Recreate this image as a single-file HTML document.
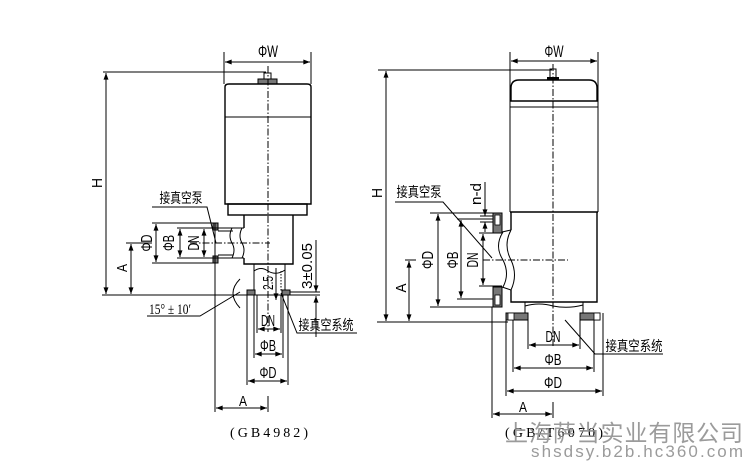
<!DOCTYPE html>
<html><head><meta charset="utf-8"><style>
html,body{margin:0;padding:0;background:#fff;}
svg{display:block;}
text{font-family:"Liberation Sans Narrow","Liberation Sans",sans-serif;fill:#000;}
.cn{font-family:"Liberation Sans","Noto Sans CJK SC",sans-serif;}
.l{stroke:#000;stroke-width:1;fill:none;}
.b{stroke:#000;stroke-width:1.4;fill:none;}
.c{stroke:#000;stroke-width:1;fill:none;stroke-dasharray:7 2 1.5 2;}
.hh{fill:#777;stroke:#000;stroke-width:1;}
</style></head><body>
<svg width="750" height="467" viewBox="0 0 750 467" xmlns="http://www.w3.org/2000/svg">
<defs>
<marker id="a" viewBox="0 0 8 6" refX="8" refY="3" markerWidth="7" markerHeight="5" markerUnits="userSpaceOnUse" orient="auto-start-reverse"><path d="M0,0 L8,3 L0,6 z" fill="#000"/></marker>
</defs>
<rect width="750" height="467" fill="#fff"/>

<!-- ===== LEFT DRAWING ===== -->
<text x="268" y="57" font-size="17" text-anchor="middle" textLength="20" lengthAdjust="spacingAndGlyphs">ΦW</text>
<line class="l" x1="224" y1="52" x2="224" y2="84"/>
<line class="l" x1="311" y1="52" x2="311" y2="84"/>
<line class="l" x1="225" y1="62" x2="310" y2="62" marker-start="url(#a)" marker-end="url(#a)"/>
<line class="l" x1="103" y1="72" x2="266" y2="72"/>
<line class="l" x1="106" y1="73" x2="106" y2="294" marker-start="url(#a)" marker-end="url(#a)"/>
<text transform="translate(102,183) rotate(-90)" font-size="15" text-anchor="middle" textLength="10" lengthAdjust="spacingAndGlyphs">H</text>
<!-- knob -->
<rect class="l" x="264" y="73" width="7" height="6"/>
<rect class="hh" x="258" y="79" width="19" height="5"/>
<!-- actuator body -->
<path class="b" d="M225,204 L225,87 Q225,84 229,84 L307,84 Q311,84 311,87 L311,204 Z"/>
<line class="l" x1="225" y1="117" x2="311" y2="117"/>
<rect class="b" x="228" y="204" width="79" height="11"/>
<!-- valve body -->
<path class="b" d="M244,215 L244,228 M244,258 L244,264 L293,264 L293,215"/>
<path class="l" d="M242,228 Q238,236 242,243 Q246,250 242,258"/>
<!-- side port -->
<rect class="hh" x="213" y="223" width="5" height="7"/>
<rect class="hh" x="213" y="256" width="5" height="7"/>
<line class="l" x1="218" y1="228" x2="244" y2="228"/>
<line class="l" x1="218" y1="231" x2="233" y2="231"/>
<line class="l" x1="218" y1="255" x2="233" y2="255"/>
<line class="l" x1="218" y1="258" x2="244" y2="258"/>
<path class="l" d="M232,228 Q228,236 232,243 Q236,250 232,258"/>
<line class="c" x1="268" y1="66" x2="268" y2="332"/>
<line class="c" x1="190" y1="243" x2="270" y2="243"/>
<!-- side dims -->
<line class="l" x1="152" y1="223" x2="213" y2="223"/>
<line class="l" x1="152" y1="263" x2="213" y2="263"/>
<line class="l" x1="156" y1="224" x2="156" y2="262" marker-start="url(#a)" marker-end="url(#a)"/>
<text transform="translate(152,243) rotate(-90)" font-size="16" text-anchor="middle" textLength="17" lengthAdjust="spacingAndGlyphs">ΦD</text>
<line class="l" x1="177" y1="228" x2="218" y2="228"/>
<line class="l" x1="177" y1="258" x2="218" y2="258"/>
<line class="l" x1="180" y1="229" x2="180" y2="257" marker-start="url(#a)" marker-end="url(#a)"/>
<text transform="translate(174,243) rotate(-90)" font-size="16" text-anchor="middle" textLength="16" lengthAdjust="spacingAndGlyphs">ΦB</text>
<line class="l" x1="204" y1="229" x2="204" y2="257" marker-start="url(#a)" marker-end="url(#a)"/>
<text transform="translate(199,243) rotate(-90)" font-size="16" text-anchor="middle" textLength="15" lengthAdjust="spacingAndGlyphs">DN</text>
<line class="l" x1="126" y1="243" x2="152" y2="243"/>
<line class="l" x1="131" y1="244" x2="131" y2="294" marker-start="url(#a)" marker-end="url(#a)"/>
<text transform="translate(127,268) rotate(-90)" font-size="15" text-anchor="middle" textLength="8" lengthAdjust="spacingAndGlyphs">A</text>
<line class="l" x1="102" y1="295" x2="320" y2="295"/>
<!-- bottom port -->
<line class="l" x1="254" y1="264" x2="254" y2="295"/>
<line class="l" x1="285" y1="264" x2="285" y2="295"/>
<path class="l" d="M254,271 Q261,266 268,271 Q276,276 285,270"/>
<line class="l" x1="281" y1="271" x2="281" y2="292" stroke-dasharray="1.5 1.5"/>
<rect class="hh" x="247" y="290" width="8" height="5"/>
<rect class="hh" x="282" y="290" width="8" height="5"/>
<line class="l" x1="215" y1="223" x2="215" y2="412"/>
<line class="l" x1="254" y1="295" x2="254" y2="358"/>
<line class="l" x1="283" y1="295" x2="283" y2="358"/>
<line class="l" x1="257" y1="295" x2="257" y2="333"/>
<line class="l" x1="281" y1="295" x2="281" y2="333"/>
<line class="l" x1="247" y1="295" x2="247" y2="385"/>
<line class="l" x1="288" y1="295" x2="288" y2="385"/>
<text x="268" y="326" font-size="16" text-anchor="middle" textLength="14" lengthAdjust="spacingAndGlyphs">DN</text>
<line class="l" x1="258" y1="329" x2="280" y2="329" marker-start="url(#a)" marker-end="url(#a)"/>
<text x="268" y="351" font-size="16" text-anchor="middle" textLength="16" lengthAdjust="spacingAndGlyphs">ΦB</text>
<line class="l" x1="255" y1="354" x2="282" y2="354" marker-start="url(#a)" marker-end="url(#a)"/>
<text x="268" y="378" font-size="16" text-anchor="middle" textLength="17" lengthAdjust="spacingAndGlyphs">ΦD</text>
<line class="l" x1="248" y1="381" x2="287" y2="381" marker-start="url(#a)" marker-end="url(#a)"/>
<line class="l" x1="216" y1="408" x2="267" y2="408" marker-start="url(#a)" marker-end="url(#a)"/>
<line class="l" x1="268" y1="396" x2="268" y2="412"/>
<text x="243" y="406" font-size="15" text-anchor="middle" textLength="8" lengthAdjust="spacingAndGlyphs">A</text>
<text x="269" y="437" font-size="14" text-anchor="middle" textLength="78" style="font-family:'Liberation Serif',serif">(GB4982)</text>
<!-- 2.5 and 3±0.05 -->
<text transform="translate(273,283) rotate(-90)" font-size="15" text-anchor="middle" textLength="14" lengthAdjust="spacingAndGlyphs">2.5</text>
<line class="l" x1="276" y1="268" x2="276" y2="300" marker-end="url(#a)"/>
<line class="l" x1="290" y1="292" x2="320" y2="292"/>
<text transform="translate(312,266) rotate(-90)" font-size="15" text-anchor="middle" textLength="46" lengthAdjust="spacingAndGlyphs">3±0.05</text>
<line class="l" x1="316" y1="240" x2="316" y2="292" marker-end="url(#a)"/>
<line class="l" x1="316" y1="337" x2="316" y2="296" marker-end="url(#a)"/>
<!-- angle -->
<path class="l" d="M240,279 Q226,293 240,308"/>
<text x="170" y="314" font-size="15" text-anchor="middle" textLength="42" lengthAdjust="spacingAndGlyphs" style="font-family:'Liberation Serif',serif">15° ± 10′</text>
<polyline class="l" points="147,316 200,316 240,292"/>
<!-- labels -->
<text class="cn" x="181" y="203" font-size="14" text-anchor="middle" textLength="43" lengthAdjust="spacingAndGlyphs">接真空泵</text>
<polyline class="l" points="152,207 207,207 216,243"/>
<text class="cn" x="326" y="330" font-size="14" text-anchor="middle" textLength="55" lengthAdjust="spacingAndGlyphs">接真空系统</text>
<polyline class="l" points="357,333 297,333 281,293"/>

<!-- ===== RIGHT DRAWING ===== -->
<text x="554" y="57" font-size="17" text-anchor="middle" textLength="19" lengthAdjust="spacingAndGlyphs">ΦW</text>
<line class="l" x1="510" y1="52" x2="510" y2="212"/>
<line class="l" x1="598" y1="52" x2="598" y2="212"/>
<line class="l" x1="511" y1="61" x2="597" y2="61" marker-start="url(#a)" marker-end="url(#a)"/>
<line class="l" x1="378" y1="70" x2="552" y2="70"/>
<line class="l" x1="386" y1="71" x2="386" y2="321" marker-start="url(#a)" marker-end="url(#a)"/>
<text transform="translate(382,193) rotate(-90)" font-size="15" text-anchor="middle" textLength="10" lengthAdjust="spacingAndGlyphs">H</text>
<!-- knob -->
<rect class="l" x="550" y="69" width="6" height="9"/>
<rect x="547" y="77" width="12" height="3" fill="#000"/>
<!-- body -->
<path class="b" d="M511,101 L511,88 Q511,80 519,80 L589,80 Q597,80 597,88 L597,101"/>
<line class="b" x1="510" y1="101" x2="598" y2="101"/>
<line class="l" x1="510" y1="107" x2="598" y2="107"/>
<line class="b" x1="510" y1="212" x2="598" y2="212"/>
<path class="b" d="M511,212 L511,230 M511,290 L511,302 L597,302 L597,212"/>
<line class="c" x1="553" y1="64" x2="553" y2="346"/>
<!-- side port -->
<rect class="hh" x="493" y="213" width="9" height="20"/>
<rect x="495" y="215" width="5" height="10" fill="#fff" stroke="#000" stroke-width="0.8"/>
<rect class="hh" x="493" y="287" width="9" height="20"/>
<rect x="495" y="295" width="5" height="10" fill="#fff" stroke="#000" stroke-width="0.8"/>
<line class="l" x1="502" y1="232" x2="511" y2="230"/>
<line class="l" x1="502" y1="287" x2="511" y2="290"/>
<path class="l" d="M503,232 Q494,246 503,260 Q510,274 503,287"/>
<path class="l" d="M511,230 Q503,245 511,260 Q518,275 511,290"/>
<line class="c" x1="483" y1="260" x2="568" y2="260"/>
<!-- side dims -->
<line class="l" x1="430" y1="213" x2="493" y2="213"/>
<line class="l" x1="430" y1="307" x2="493" y2="307"/>
<line class="l" x1="438" y1="214" x2="438" y2="306" marker-start="url(#a)" marker-end="url(#a)"/>
<text transform="translate(433,260) rotate(-90)" font-size="16" text-anchor="middle" textLength="18" lengthAdjust="spacingAndGlyphs">ΦD</text>
<line class="l" x1="457" y1="219" x2="493" y2="219"/>
<line class="l" x1="457" y1="299" x2="493" y2="299"/>
<line class="l" x1="461" y1="220" x2="461" y2="298" marker-start="url(#a)" marker-end="url(#a)"/>
<text transform="translate(458,260) rotate(-90)" font-size="16" text-anchor="middle" textLength="17" lengthAdjust="spacingAndGlyphs">ΦB</text>
<line class="l" x1="479" y1="233" x2="502" y2="233"/>
<line class="l" x1="479" y1="286" x2="502" y2="286"/>
<line class="l" x1="483" y1="234" x2="483" y2="285" marker-start="url(#a)" marker-end="url(#a)"/>
<text transform="translate(478,260) rotate(-90)" font-size="16" text-anchor="middle" textLength="15" lengthAdjust="spacingAndGlyphs">DN</text>
<!-- n-d -->
<line class="l" x1="480" y1="216" x2="493" y2="216"/>
<line class="l" x1="480" y1="222" x2="493" y2="222"/>
<line class="l" x1="485" y1="182" x2="485" y2="216" marker-end="url(#a)"/>
<line class="l" x1="485" y1="232" x2="485" y2="222" marker-end="url(#a)"/>
<text transform="translate(481,194) rotate(-90)" font-size="15" text-anchor="middle" textLength="22" lengthAdjust="spacingAndGlyphs">n-d</text>
<!-- A -->
<line class="l" x1="405" y1="260" x2="416" y2="260"/>
<line class="l" x1="409" y1="261" x2="409" y2="321" marker-start="url(#a)" marker-end="url(#a)"/>
<text transform="translate(406,288) rotate(-90)" font-size="15" text-anchor="middle" textLength="9" lengthAdjust="spacingAndGlyphs">A</text>
<line class="l" x1="377" y1="322" x2="508" y2="322"/>
<!-- labels -->
<text class="cn" x="419" y="197" font-size="14" text-anchor="middle" textLength="45" lengthAdjust="spacingAndGlyphs">接真空泵</text>
<polyline class="l" points="395,202 443,202 492,258"/>
<!-- bottom port -->
<line class="l" x1="525" y1="302" x2="525" y2="313"/>
<line class="l" x1="583" y1="302" x2="583" y2="313"/>
<path class="l" d="M525,306 Q539,302 553,306 Q568,309 583,305"/>
<rect class="hh" x="506" y="313" width="22" height="7"/>
<rect x="508" y="313" width="6" height="7" fill="#fff" stroke="#000" stroke-width="0.8"/>
<rect class="hh" x="580" y="313" width="20" height="7"/>
<rect x="594" y="313" width="6" height="7" fill="#fff" stroke="#000" stroke-width="0.8"/>
<line class="l" x1="492" y1="307" x2="492" y2="418"/>
<line class="l" x1="506" y1="320" x2="506" y2="396"/>
<line class="l" x1="603" y1="313" x2="603" y2="396"/>
<line class="l" x1="513" y1="320" x2="513" y2="372"/>
<line class="l" x1="594" y1="320" x2="594" y2="372"/>
<line class="l" x1="528" y1="320" x2="528" y2="349"/>
<line class="l" x1="580" y1="320" x2="580" y2="349"/>
<text x="553" y="342" font-size="16" text-anchor="middle" textLength="15" lengthAdjust="spacingAndGlyphs">DN</text>
<line class="l" x1="529" y1="345" x2="579" y2="345" marker-start="url(#a)" marker-end="url(#a)"/>
<text x="553" y="365" font-size="16" text-anchor="middle" textLength="17" lengthAdjust="spacingAndGlyphs">ΦB</text>
<line class="l" x1="514" y1="368" x2="593" y2="368" marker-start="url(#a)" marker-end="url(#a)"/>
<text x="553" y="388" font-size="16" text-anchor="middle" textLength="18" lengthAdjust="spacingAndGlyphs">ΦD</text>
<line class="l" x1="507" y1="391" x2="602" y2="391" marker-start="url(#a)" marker-end="url(#a)"/>
<line class="l" x1="493" y1="414" x2="552" y2="414" marker-start="url(#a)" marker-end="url(#a)"/>
<line class="l" x1="553" y1="402" x2="553" y2="418"/>
<text x="523" y="412" font-size="15" text-anchor="middle" textLength="8" lengthAdjust="spacingAndGlyphs">A</text>
<text class="cn" x="634" y="351" font-size="14" text-anchor="middle" textLength="57" lengthAdjust="spacingAndGlyphs">接真空系统</text>
<polyline class="l" points="663,354 595,354 565,320"/>
<text x="554" y="437" font-size="14" text-anchor="middle" textLength="98" style="font-family:'Liberation Serif',serif">(GB/T6070)</text>
<!-- watermark -->
<text class="cn" x="505" y="441" font-size="23" textLength="238" style="fill:#8a8a8a;fill-opacity:0.85">上海萨当实业有限公司</text>
<text x="531" y="457" font-size="17" textLength="212" style="font-family:'Liberation Sans',sans-serif;fill:#8a8a8a;fill-opacity:0.85">shsdsy.b2b.hc360.com</text>
</svg>
</body></html>
